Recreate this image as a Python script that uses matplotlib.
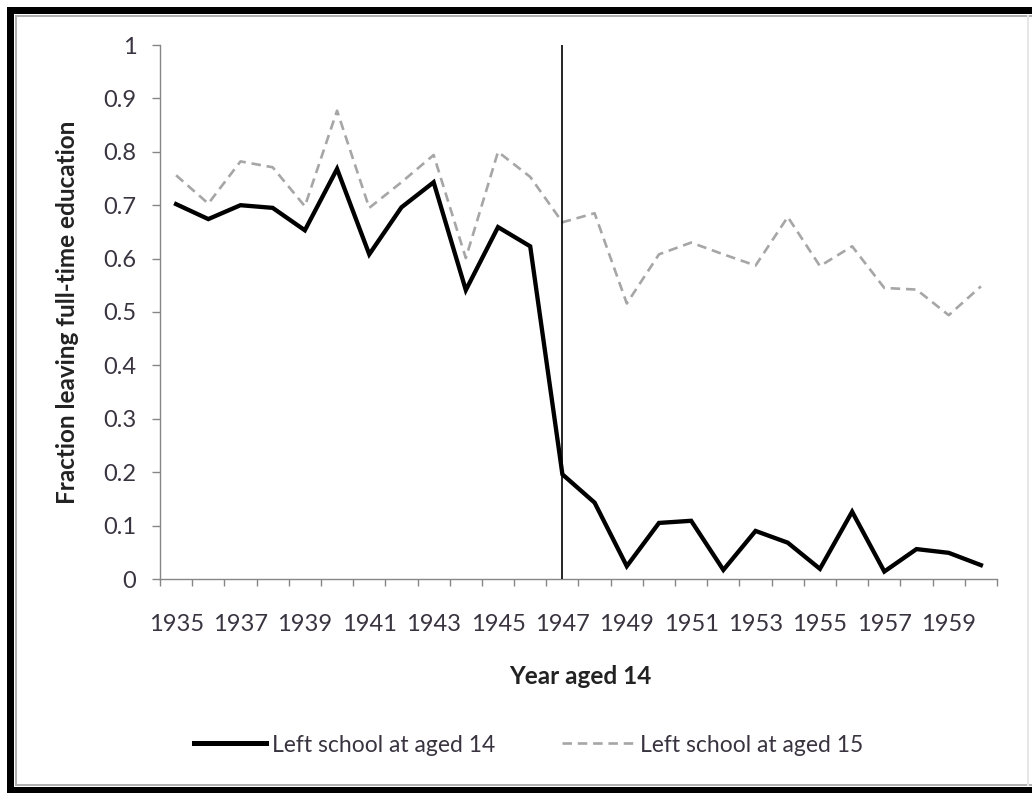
import matplotlib
matplotlib.use("Agg")
import matplotlib.pyplot as plt
from matplotlib.patches import Rectangle
from matplotlib.lines import Line2D

years = list(range(1935, 1961))
left14 = [0.702, 0.674, 0.700, 0.695, 0.653, 0.768, 0.608, 0.696, 0.743, 0.541,
          0.659, 0.623, 0.196, 0.143, 0.024, 0.105, 0.109, 0.017, 0.090, 0.068,
          0.019, 0.126, 0.014, 0.056, 0.049, 0.026]
left15 = [0.756, 0.703, 0.782, 0.771, 0.698, 0.877, 0.695, 0.743, 0.794, 0.601,
          0.800, 0.753, 0.668, 0.685, 0.516, 0.608, 0.630, 0.608, 0.587, 0.678,
          0.586, 0.623, 0.545, 0.542, 0.494, 0.548]
y_ticks = [0, 0.1, 0.2, 0.3, 0.4, 0.5, 0.6, 0.7, 0.8, 0.9, 1]
y_tick_labels = ["0", "0.1", "0.2", "0.3", "0.4", "0.5", "0.6", "0.7", "0.8", "0.9", "1"]
reform_year = 1947

plt.rcParams['font.family'] = ['Lato', 'DejaVu Sans']

W, H = 1032, 793
fig = plt.figure(figsize=(W / 100, H / 100), dpi=100)
fig.patch.set_facecolor('white')

ax = fig.add_axes([160 / W, 1 - 579 / H, (997 - 160) / W, (579 - 45) / H])
x = list(range(len(years)))

ax.plot(x, left15, color='#a6a6a6', lw=1.9, dashes=(3.6, 2.2), label='Left school at aged 15', zorder=2)
ax.plot(x, left14, color='black', lw=3.1, label='Left school at aged 14', solid_joinstyle='miter', zorder=3)
xr = years.index(reform_year)
ax.plot([xr, xr], [0, 1], color='black', lw=1.2, zorder=4)

ax.set_xlim(-0.5, len(years) - 0.5)
ax.set_ylim(0, 1)

for s in ['top', 'right']:
    ax.spines[s].set_visible(False)
for s in ['left', 'bottom']:
    ax.spines[s].set_color('#868686')
    ax.spines[s].set_linewidth(1.0)

ax.set_xticks([i - 0.5 for i in range(len(years) + 1)])
ax.set_xticklabels([])
ax.set_xticks(x[::2], minor=True)
ax.set_xticklabels([str(y) for y in years[::2]], minor=True)
ax.tick_params(axis='x', which='major', direction='out', length=5, width=1, color='#868686')
ax.tick_params(axis='x', which='minor', length=0, pad=25, labelsize=17, labelcolor='#3a3340')

ax.set_yticks(y_ticks)
ax.set_yticklabels(y_tick_labels)
ax.tick_params(axis='y', direction='out', length=6, width=1, color='#868686', pad=11,
               labelsize=17, labelcolor='#3a3340')

fig.text(580 / W, 1 - 676 / H, 'Year aged 14', ha='center', va='center',
         fontsize=17.5, fontweight='bold', color='#222222')
fig.text(68 / W, 1 - 312 / H, 'Fraction leaving full-time education', ha='center', va='center',
         rotation=90, fontsize=17.5, fontweight='bold', color='#222222')

h14 = Line2D([], [], color='black', lw=3.6)
h15 = Line2D([], [], color='#a6a6a6', lw=1.9, dashes=(3.6, 2.2))
leg = fig.legend([h14, h15], ['Left school at aged 14', 'Left school at aged 15'],
                 loc='center', bbox_to_anchor=(528.5 / W, 1 - 745 / H), ncol=2, frameon=False,
                 fontsize=16.5, handlelength=3.14, handletextpad=0.26, columnspacing=2.9)
for t in leg.get_texts():
    t.set_color('#3a3340')

def band(x0, y0, w, h, color):
    fig.patches.append(Rectangle((x0 / W, 1 - (y0 + h) / H), w / W, h / H,
                                 transform=fig.transFigure, facecolor=color, edgecolor='none',
                                 figure=fig))

band(7, 7, W - 7, 7, 'black')
band(7, 7, 7, H - 7, 'black')
band(7, 787, W - 7, 6, 'black')
band(15, 15, W - 15, 2, '#b0b0b0')
band(15, 15, 2, 771, '#b0b0b0')
band(15, 784, W - 15, 2, '#b0b0b0')
band(1027, 15, 2, 771, '#e6e6e6')

fig.savefig('out.png', dpi=100, facecolor='white')
